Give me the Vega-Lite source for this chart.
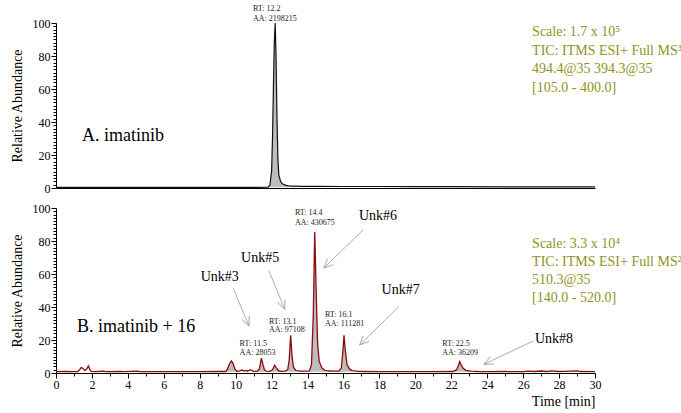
{
  "$schema": "https://vega.github.io/schema/vega-lite/v6.json",
  "padding": {"left": 10, "top": 4, "right": 2, "bottom": 2},
  "bounds": "flush",
  "spacing": 20,
  "background": "white",
  "config": {
    "font": "Times New Roman, Liberation Serif, DejaVu Serif, serif",
    "view": {"stroke": null},
    "axis": {"grid": false, "domainColor": "black", "tickColor": "black", "labelColor": "black", "titleColor": "black", "labelFont": "Times New Roman, Liberation Serif, DejaVu Serif, serif", "titleFont": "Times New Roman, Liberation Serif, DejaVu Serif, serif", "labelFontSize": 12, "titleFontSize": 14, "titleFontWeight": "normal", "labelFlush": false, "labelOverlap": false},
    "text": {"font": "Times New Roman, Liberation Serif, DejaVu Serif, serif"}
  },
  "datasets": {
    "a": [
      {"x": 0, "y": 0.4}, {"x": 1, "y": 0.4}, {"x": 3, "y": 0.4}, {"x": 5, "y": 0.4}, {"x": 7, "y": 0.4}, {"x": 9, "y": 0.4}, {"x": 11, "y": 0.4},
      {"x": 11.8, "y": 0.5, "pk": "p1"}, {"x": 11.9, "y": 1.5, "pk": "p1"}, {"x": 12.0, "y": 10, "pk": "p1"}, {"x": 12.05, "y": 30, "pk": "p1"}, {"x": 12.1, "y": 60, "pk": "p1"}, {"x": 12.15, "y": 88, "pk": "p1"}, {"x": 12.2, "y": 100, "pk": "p1"}, {"x": 12.25, "y": 78, "pk": "p1"}, {"x": 12.3, "y": 42, "pk": "p1"}, {"x": 12.35, "y": 18, "pk": "p1"}, {"x": 12.4, "y": 8, "pk": "p1"}, {"x": 12.5, "y": 4, "pk": "p1"}, {"x": 12.6, "y": 2.5, "pk": "p1"}, {"x": 12.8, "y": 1.6, "pk": "p1"}, {"x": 13.0, "y": 1.2, "pk": "p1"}, {"x": 13.3, "y": 1.1, "pk": "p1"},
      {"x": 13.6, "y": 1.0}, {"x": 14.5, "y": 1.0}, {"x": 16, "y": 0.9}, {"x": 18, "y": 0.9}, {"x": 20, "y": 0.8}, {"x": 22, "y": 0.8}, {"x": 25, "y": 0.7}, {"x": 28, "y": 0.7}, {"x": 30, "y": 0.7}
    ],
    "b": [
      {"x": 0, "y": 0.8}, {"x": 0.5, "y": 0.9}, {"x": 1.0, "y": 0.8}, {"x": 1.2, "y": 0.9}, {"x": 1.3, "y": 1.8}, {"x": 1.4, "y": 3.3}, {"x": 1.5, "y": 2.8}, {"x": 1.6, "y": 1.6}, {"x": 1.7, "y": 2.2}, {"x": 1.8, "y": 4.2}, {"x": 1.87, "y": 2.5}, {"x": 1.95, "y": 1.0},
      {"x": 2.2, "y": 0.8}, {"x": 2.6, "y": 1.1}, {"x": 2.8, "y": 0.8}, {"x": 3.6, "y": 1.0}, {"x": 3.8, "y": 0.8}, {"x": 4.5, "y": 1.1}, {"x": 4.7, "y": 0.8}, {"x": 6, "y": 0.8}, {"x": 8, "y": 0.8}, {"x": 9.0, "y": 0.9},
      {"x": 9.45, "y": 0.9, "pk": "p2"}, {"x": 9.55, "y": 2.5, "pk": "p2"}, {"x": 9.65, "y": 5.5, "pk": "p2"}, {"x": 9.76, "y": 7.3, "pk": "p2"}, {"x": 9.85, "y": 6, "pk": "p2"}, {"x": 9.95, "y": 2.5, "pk": "p2"}, {"x": 10.05, "y": 1.2, "pk": "p2"},
      {"x": 10.2, "y": 1.1}, {"x": 10.35, "y": 1.8}, {"x": 10.45, "y": 1.2}, {"x": 10.55, "y": 1.6}, {"x": 10.65, "y": 1.1}, {"x": 10.8, "y": 1.9}, {"x": 10.9, "y": 1.6}, {"x": 11.0, "y": 1.0},
      {"x": 11.2, "y": 1.0, "pk": "p3"}, {"x": 11.32, "y": 2.5, "pk": "p3"}, {"x": 11.43, "y": 9.0, "pk": "p3"}, {"x": 11.52, "y": 5, "pk": "p3"}, {"x": 11.6, "y": 2, "pk": "p3"}, {"x": 11.7, "y": 1.1, "pk": "p3"},
      {"x": 11.9, "y": 1.0, "pk": "p4"}, {"x": 12.05, "y": 2, "pk": "p4"}, {"x": 12.17, "y": 4.7, "pk": "p4"}, {"x": 12.27, "y": 3, "pk": "p4"}, {"x": 12.4, "y": 1.2, "pk": "p4"},
      {"x": 12.6, "y": 1.0},
      {"x": 12.75, "y": 1.1, "pk": "p5"}, {"x": 12.9, "y": 2, "pk": "p5"}, {"x": 12.98, "y": 8, "pk": "p5"}, {"x": 13.06, "y": 22.8, "pk": "p5"}, {"x": 13.14, "y": 10, "pk": "p5"}, {"x": 13.22, "y": 3.5, "pk": "p5"}, {"x": 13.35, "y": 1.5, "pk": "p5"},
      {"x": 13.6, "y": 1.1}, {"x": 14.0, "y": 1.1},
      {"x": 14.1, "y": 1.3, "pk": "p6"}, {"x": 14.22, "y": 5, "pk": "p6"}, {"x": 14.32, "y": 35, "pk": "p6"}, {"x": 14.4, "y": 85.4, "pk": "p6"}, {"x": 14.48, "y": 50, "pk": "p6"}, {"x": 14.56, "y": 18, "pk": "p6"}, {"x": 14.65, "y": 7, "pk": "p6"}, {"x": 14.8, "y": 3, "pk": "p6"}, {"x": 14.97, "y": 1.6, "pk": "p6"},
      {"x": 15.2, "y": 1.2}, {"x": 15.5, "y": 1.1},
      {"x": 15.75, "y": 1.2, "pk": "p7"}, {"x": 15.88, "y": 3, "pk": "p7"}, {"x": 15.96, "y": 12, "pk": "p7"}, {"x": 16.03, "y": 22.8, "pk": "p7"}, {"x": 16.1, "y": 14, "pk": "p7"}, {"x": 16.2, "y": 5, "pk": "p7"}, {"x": 16.35, "y": 2.2, "pk": "p7"}, {"x": 16.5, "y": 1.5, "pk": "p7"},
      {"x": 16.8, "y": 1.0}, {"x": 17.2, "y": 0.9}, {"x": 18, "y": 0.8}, {"x": 20, "y": 0.8}, {"x": 21, "y": 0.8},
      {"x": 22.1, "y": 0.9, "pk": "p8"}, {"x": 22.3, "y": 2, "pk": "p8"}, {"x": 22.4, "y": 4.5, "pk": "p8"}, {"x": 22.47, "y": 6.9, "pk": "p8"}, {"x": 22.55, "y": 5, "pk": "p8"}, {"x": 22.65, "y": 3, "pk": "p8"}, {"x": 22.8, "y": 1.6, "pk": "p8"}, {"x": 23.0, "y": 1.3, "pk": "p8"},
      {"x": 23.1, "y": 1.1}, {"x": 23.5, "y": 0.9}, {"x": 24, "y": 0.8}, {"x": 25, "y": 0.9}, {"x": 26, "y": 0.8}, {"x": 26.3, "y": 1.1}, {"x": 26.6, "y": 0.9}, {"x": 27, "y": 1.2}, {"x": 27.3, "y": 0.9}, {"x": 27.6, "y": 1.3}, {"x": 28, "y": 0.9}, {"x": 28.3, "y": 1.0}, {"x": 29, "y": 1.3}, {"x": 29.2, "y": 0.9}, {"x": 30, "y": 0.8}
    ],
    "segA": [{"x": 11.8, "x2": 13.0}],
    "segB": [
      {"x": 1.2, "x2": 1.9}, {"x": 9.44, "x2": 10.0}, {"x": 11.17, "x2": 11.67}, {"x": 11.9, "x2": 12.4}, {"x": 12.74, "x2": 13.34}, {"x": 14.08, "x2": 14.97}, {"x": 15.75, "x2": 16.49}, {"x": 22.15, "x2": 23.08}
    ],
    "txt": [
      {"panel": "A", "kind": "rt", "x": 10.96, "y": 108.5, "text": "RT: 12.2"},
      {"panel": "A", "kind": "rt", "x": 10.96, "y": 102.4, "text": "AA: 2198215"},
      {"panel": "A", "kind": "big", "x": 1.45, "y": 31.5, "text": "A. imatinib"},
      {"panel": "A", "kind": "info", "x": 26.5, "y": 94.4, "text": "Scale: 1.7 x 10⁵"},
      {"panel": "A", "kind": "info", "x": 26.5, "y": 83.2, "text": "TIC: ITMS ESI+ Full MS³"},
      {"panel": "A", "kind": "info", "x": 26.5, "y": 72.1, "text": "494.4@35 394.3@35"},
      {"panel": "A", "kind": "info", "x": 26.5, "y": 60.9, "text": "[105.0 - 400.0]"},
      {"panel": "B", "kind": "rt", "x": 13.3, "y": 97, "text": "RT: 14.4"},
      {"panel": "B", "kind": "rt", "x": 13.3, "y": 90.9, "text": "AA: 430675"},
      {"panel": "B", "kind": "rt", "x": 11.85, "y": 31.2, "text": "RT: 13.1"},
      {"panel": "B", "kind": "rt", "x": 11.85, "y": 25.9, "text": "AA: 97108"},
      {"panel": "B", "kind": "rt", "x": 10.22, "y": 17.5, "text": "RT: 11.5"},
      {"panel": "B", "kind": "rt", "x": 10.22, "y": 12.2, "text": "AA: 28053"},
      {"panel": "B", "kind": "rt", "x": 14.97, "y": 35.3, "text": "RT: 16.1"},
      {"panel": "B", "kind": "rt", "x": 14.97, "y": 30, "text": "AA: 111281"},
      {"panel": "B", "kind": "rt", "x": 21.5, "y": 17.3, "text": "RT: 22.5"},
      {"panel": "B", "kind": "rt", "x": 21.5, "y": 12, "text": "AA: 36209"},
      {"panel": "B", "kind": "big", "x": 1.17, "y": 27.7, "text": "B. imatinib + 16"},
      {"panel": "B", "kind": "unk", "x": 8.05, "y": 58.1, "text": "Unk#3"},
      {"panel": "B", "kind": "unk", "x": 10.3, "y": 69.5, "text": "Unk#5"},
      {"panel": "B", "kind": "unk", "x": 16.86, "y": 95.3, "text": "Unk#6"},
      {"panel": "B", "kind": "unk", "x": 18.12, "y": 50.2, "text": "Unk#7"},
      {"panel": "B", "kind": "unk", "x": 26.66, "y": 20.9, "text": "Unk#8"},
      {"panel": "B", "kind": "info", "x": 26.5, "y": 78.1, "text": "Scale: 3.3 x 10⁴"},
      {"panel": "B", "kind": "info", "x": 26.5, "y": 67.2, "text": "TIC: ITMS ESI+ Full MS²"},
      {"panel": "B", "kind": "info", "x": 26.5, "y": 56.3, "text": "510.3@35"},
      {"panel": "B", "kind": "info", "x": 26.5, "y": 45.4, "text": "[140.0 - 520.0]"}
    ],
    "arrows": [
      {"x": 9.87, "y": 51.2, "x2": 10.74, "y2": 28.5},
      {"x": 11.85, "y": 61.9, "x2": 12.73, "y2": 38.7},
      {"x": 17.1, "y": 86.8, "x2": 14.91, "y2": 63.6},
      {"x": 19.09, "y": 40.3, "x2": 16.9, "y2": 17.0},
      {"x": 26.56, "y": 19.4, "x2": 23.82, "y2": 5.3}
    ]
  },
  "vconcat": [
    {
      "width": 539,
      "height": 165,
      "encoding": {
        "x": {"field": "x", "type": "quantitative", "title": null, "scale": {"domain": [0, 30], "nice": false, "zero": false}, "axis": {"labels": false, "ticks": false, "title": null, "domainWidth": 1.2}},
        "y": {"field": "y", "type": "quantitative", "title": "Relative Abundance", "scale": {"domain": [0, 100], "nice": false}, "axis": {"values": [0,2,4,6,8,10,12,14,16,18,20,22,24,26,28,30,32,34,36,38,40,42,44,46,48,50,52,54,56,58,60,62,64,66,68,70,72,74,76,78,80,82,84,86,88,90,92,94,96,98,100], "format": "d", "labelExpr": "datum.value % 20 === 0 ? datum.label : ''", "tickSize": {"condition": {"test": "datum.value % 20 === 0", "value": 5}, "value": 3}, "labelPadding": 1, "titlePadding": 8}}
      },
      "layer": [
        {"data": {"name": "a"}, "transform": [{"filter": "isValid(datum.pk)"}], "mark": {"type": "area", "color": "#bdbdbd", "opacity": 1}, "encoding": {"detail": {"field": "pk"}, "y2": {"datum": 0.5}}},
        {"data": {"name": "a"}, "mark": {"type": "line", "color": "#111111", "strokeWidth": 1.2}},
        {"data": {"name": "segA"}, "mark": {"type": "rule", "color": "#1a1aff", "strokeWidth": 1.5}, "encoding": {"x2": {"field": "x2"}, "y": {"datum": 0.6}}},
        {"data": {"name": "segA"}, "mark": {"type": "rule", "color": "#1a1aff", "strokeWidth": 1}, "encoding": {"y": {"datum": -1.5}, "y2": {"datum": 2.5}}},
        {"data": {"name": "segA"}, "mark": {"type": "rule", "color": "#1a1aff", "strokeWidth": 1}, "encoding": {"x": {"field": "x2", "type": "quantitative", "title": null}, "y": {"datum": -1.5}, "y2": {"datum": 2.5}}},
        {"data": {"name": "txt"}, "transform": [{"filter": "datum.panel === 'A' && datum.kind === 'rt'"}], "mark": {"type": "text", "align": "left", "baseline": "middle", "fontSize": 8, "color": "#222"}, "encoding": {"text": {"field": "text"}}},
        {"data": {"name": "txt"}, "transform": [{"filter": "datum.panel === 'A' && datum.kind === 'big'"}], "mark": {"type": "text", "align": "left", "baseline": "middle", "fontSize": 18, "color": "#000"}, "encoding": {"text": {"field": "text"}}},
        {"data": {"name": "txt"}, "transform": [{"filter": "datum.panel === 'A' && datum.kind === 'info'"}], "mark": {"type": "text", "align": "left", "baseline": "middle", "fontSize": 14, "color": "#929224"}, "encoding": {"text": {"field": "text"}}}
      ]
    },
    {
      "width": 539,
      "height": 165,
      "encoding": {
        "x": {"field": "x", "type": "quantitative", "title": "Time [min]", "scale": {"domain": [0, 30], "nice": false, "zero": false}, "axis": {"values": [0,0.5,1,1.5,2,2.5,3,3.5,4,4.5,5,5.5,6,6.5,7,7.5,8,8.5,9,9.5,10,10.5,11,11.5,12,12.5,13,13.5,14,14.5,15,15.5,16,16.5,17,17.5,18,18.5,19,19.5,20,20.5,21,21.5,22,22.5,23,23.5,24,24.5,25,25.5,26,26.5,27,27.5,28,28.5,29,29.5,30], "format": "d", "labelExpr": "datum.value % 2 === 0 ? datum.label : ''", "tickSize": {"condition": {"test": "datum.value % 2 === 0", "value": 5}, "value": 3}, "labelPadding": 1, "titleAnchor": "end", "titlePadding": 4, "domainWidth": 1.2}},
        "y": {"field": "y", "type": "quantitative", "title": "Relative Abundance", "scale": {"domain": [0, 100], "nice": false}, "axis": {"values": [0,2,4,6,8,10,12,14,16,18,20,22,24,26,28,30,32,34,36,38,40,42,44,46,48,50,52,54,56,58,60,62,64,66,68,70,72,74,76,78,80,82,84,86,88,90,92,94,96,98,100], "format": "d", "labelExpr": "datum.value % 20 === 0 ? datum.label : ''", "tickSize": {"condition": {"test": "datum.value % 20 === 0", "value": 5}, "value": 3}, "labelPadding": 1, "titlePadding": 8}}
      },
      "layer": [
        {"data": {"name": "b"}, "transform": [{"filter": "isValid(datum.pk)"}], "mark": {"type": "area", "color": "#bdbdbd", "opacity": 1}, "encoding": {"detail": {"field": "pk"}, "y2": {"datum": 0.8}}},
        {"data": {"name": "b"}, "mark": {"type": "line", "color": "#8b0a0a", "strokeWidth": 1.3}},
        {"data": {"name": "segB"}, "mark": {"type": "rule", "color": "#1a1aff", "strokeWidth": 1.5}, "encoding": {"x2": {"field": "x2"}, "y": {"datum": 0.8}}},
        {"data": {"name": "segB"}, "mark": {"type": "rule", "color": "#1a1aff", "strokeWidth": 1}, "encoding": {"y": {"datum": -1}, "y2": {"datum": 3}}},
        {"data": {"name": "segB"}, "mark": {"type": "rule", "color": "#1a1aff", "strokeWidth": 1}, "encoding": {"x": {"field": "x2", "type": "quantitative", "title": "Time [min]"}, "y": {"datum": -1}, "y2": {"datum": 3}}},
        {"data": {"name": "arrows"}, "mark": {"type": "rule", "color": "#999999", "strokeWidth": 0.8}, "encoding": {"x2": {"field": "x2"}, "y2": {"field": "y2"}}},
        {"data": {"name": "arrows"}, "transform": [{"calculate": "atan2((datum.x2 - datum.x) * 17.97, (datum.y2 - datum.y) * 1.647) * 180 / PI", "as": "ang"}], "mark": {"type": "point", "shape": "M-0.9,2L0,0L0.9,2", "filled": false, "color": "#999999", "strokeWidth": 0.8, "size": 81, "opacity": 1}, "encoding": {"x": {"field": "x2", "type": "quantitative", "title": "Time [min]"}, "y": {"field": "y2", "type": "quantitative", "title": "Relative Abundance"}, "angle": {"field": "ang", "type": "quantitative", "scale": null}}},
        {"data": {"name": "txt"}, "transform": [{"filter": "datum.panel === 'B' && datum.kind === 'rt'"}], "mark": {"type": "text", "align": "left", "baseline": "middle", "fontSize": 8, "color": "#222"}, "encoding": {"text": {"field": "text"}}},
        {"data": {"name": "txt"}, "transform": [{"filter": "datum.panel === 'B' && datum.kind === 'big'"}], "mark": {"type": "text", "align": "left", "baseline": "middle", "fontSize": 18, "color": "#000"}, "encoding": {"text": {"field": "text"}}},
        {"data": {"name": "txt"}, "transform": [{"filter": "datum.panel === 'B' && datum.kind === 'unk'"}], "mark": {"type": "text", "align": "left", "baseline": "middle", "fontSize": 14, "color": "#000"}, "encoding": {"text": {"field": "text"}}},
        {"data": {"name": "txt"}, "transform": [{"filter": "datum.panel === 'B' && datum.kind === 'info'"}], "mark": {"type": "text", "align": "left", "baseline": "middle", "fontSize": 14, "color": "#929224"}, "encoding": {"text": {"field": "text"}}}
      ]
    }
  ]
}
